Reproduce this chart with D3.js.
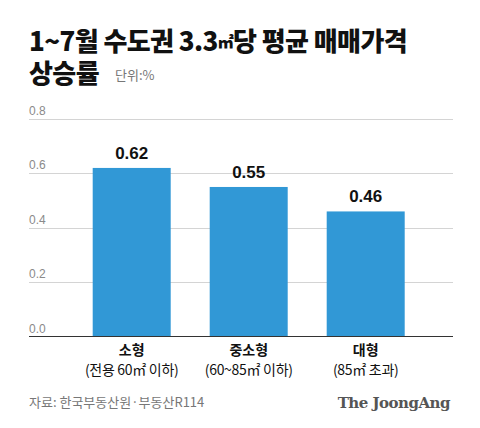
<!DOCTYPE html>
<html><head><meta charset="utf-8">
<script src="https://cdn.jsdelivr.net/npm/d3@7/dist/d3.min.js"></script>
<style>
html,body{margin:0;padding:0;background:#fff;}
svg{display:block;}
</style>
</head><body>
<div id="chart"></div>
<script>
const categories = ["소형", "중소형", "대형"];
const subLabels = ["(전용 60㎡ 이하)", "(60~85㎡ 이하)", "(85㎡ 초과)"];
const values = [0.62, 0.55, 0.46];
const yTicks = [0.0, 0.2, 0.4, 0.6, 0.8];

const W = 480, H = 428;
const svg = d3.select("#chart").append("svg").attr("width", W).attr("height", H);
const KR = "'Noto Sans CJK KR','Noto Sans',sans-serif";

// Title
const t1 = svg.append("text").attr("x", 29).attr("y", 51)
  .attr("font-family", KR).attr("font-weight", 900).attr("font-size", 26)
  .attr("letter-spacing", -0.6).attr("fill", "#111");
t1.append("tspan").text("1~7월 수도권 3.3");
t1.append("tspan").attr("font-size", 16).attr("dy", -3).text("㎡");
t1.append("tspan").attr("dy", 3).text("당 평균 매매가격");
svg.append("text").attr("x", 29).attr("y", 83)
  .attr("font-family", KR).attr("font-weight", 900).attr("font-size", 26)
  .attr("letter-spacing", -0.6).attr("fill", "#111")
  .text("상승률");
svg.append("text").attr("x", 115).attr("y", 80)
  .attr("font-family", KR).attr("font-size", 13).attr("fill", "#777")
  .text("단위:%");

const y = d3.scaleLinear().domain([0, 0.8]).range([336.5, 119]);
const x = d3.scaleBand().domain(categories).range([53.7, 443.7])
  .paddingInner(1/3).paddingOuter(1/3);

// grid
const grid = svg.append("g");
grid.selectAll("line").data(yTicks.filter(d => d > 0)).join("line")
  .attr("x1", 29).attr("x2", 453)
  .attr("y1", d => Math.round(y(d)) + 0.5).attr("y2", d => Math.round(y(d)) + 0.5)
  .attr("stroke", "#d4d4d4").attr("stroke-width", 1);
grid.selectAll("text").data(yTicks).join("text")
  .attr("x", 29).attr("y", d => y(d) - 4)
  .attr("font-family", "'Liberation Sans',Arial,sans-serif").attr("font-size", 12)
  .attr("fill", "#8a8a8a")
  .text(d => d.toFixed(1));

// bars
svg.append("g").selectAll("rect").data(values).join("rect")
  .attr("x", (d, i) => x(categories[i]))
  .attr("width", x.bandwidth())
  .attr("y", d => y(d))
  .attr("height", d => y(0) - y(d))
  .attr("fill", "#3198d6");

// baseline
svg.append("line").attr("x1", 29).attr("x2", 453)
  .attr("y1", 336.5).attr("y2", 336.5).attr("stroke", "#333").attr("stroke-width", 1);

// value labels
svg.append("g").selectAll("text").data(values).join("text")
  .attr("x", (d, i) => x(categories[i]) + x.bandwidth() / 2)
  .attr("y", d => y(d) - 9)
  .attr("text-anchor", "middle")
  .attr("font-family", "'Liberation Sans',Arial,sans-serif").attr("font-weight", 700)
  .attr("font-size", 17).attr("fill", "#111")
  .text(d => d.toFixed(2));

// category labels
const cl = svg.append("g");
cl.selectAll("text.c").data(categories).join("text").attr("class", "c")
  .attr("x", d => x(d) + x.bandwidth() / 2).attr("y", 355)
  .attr("text-anchor", "middle")
  .attr("font-family", KR).attr("font-weight", 700).attr("font-size", 14).attr("fill", "#111")
  .text(d => d);
cl.selectAll("text.s").data(subLabels).join("text").attr("class", "s")
  .attr("x", (d, i) => x(categories[i]) + x.bandwidth() / 2).attr("y", 375)
  .attr("text-anchor", "middle")
  .attr("font-family", KR).attr("font-size", 14).attr("letter-spacing", -0.3).attr("fill", "#111")
  .text(d => d);

// source
svg.append("text").attr("x", 29).attr("y", 407)
  .attr("font-family", KR).attr("font-size", 13).attr("fill", "#777")
  .text("자료: 한국부동산원·부동산R114");
svg.append("text").attr("x", 450).attr("y", 408).attr("text-anchor", "end")
  .attr("font-family", "'DejaVu Serif','Liberation Serif',serif").attr("font-weight", 700)
  .attr("font-size", 15).attr("letter-spacing", -0.5).attr("fill", "#555")
  .text("The JoongAng");
</script>
</body></html>
